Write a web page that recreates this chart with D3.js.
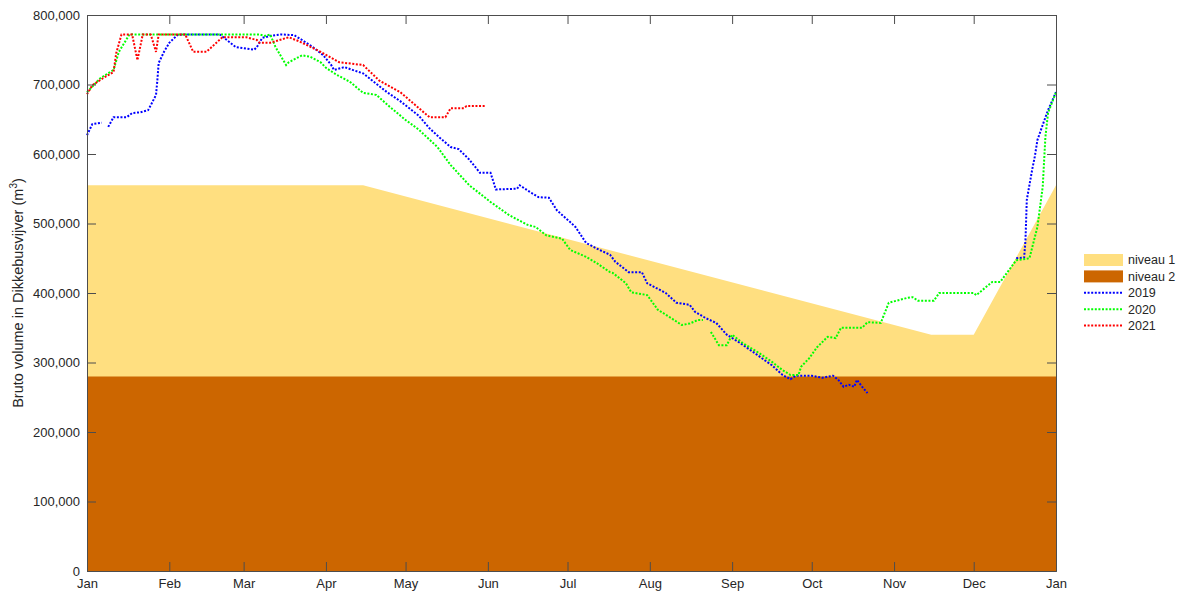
<!DOCTYPE html>
<html>
<head>
<meta charset="utf-8">
<script src="https://cdn.jsdelivr.net/npm/d3@7"></script>
<style>
  body { margin: 0; background: #fff; }
  svg { font-family: "Liberation Sans", Arial, sans-serif; }
</style>
</head>
<body>
<div id="chart"></div>
<script>
// --- data (day of year, volume in 1000 m3) ---
const months = ["Jan", "Feb", "Mar", "Apr", "May", "Jun", "Jul", "Aug", "Sep", "Oct", "Nov", "Dec", "Jan"];

const levelDates = ["2019-01-01", "2019-04-15", "2019-11-15", "2019-12-01", "2020-01-01"];
const level1 = [555000, 555000, 340000, 340000, 555000];
const level2 = [280000, 280000, 280000, 280000, 280000];

// null = missing data (gap in the line)
const days2019 = [0, 2, 5.6, 7, 8, 10, 15, 17, 20, 23, 24, 26, 26.5, 27, 29, 31, 34, 36, 50, 54, 56, 63, 64, 66, 69, 73, 78, 81, 85, 89, 92, 93, 97, 100, 104, 108, 113, 118, 125, 129, 133, 137, 140, 144, 148, 152, 154, 162, 163, 167, 170, 174, 177, 182, 184, 188, 193, 197, 199, 204, 209, 211, 216, 218, 222, 227, 229, 233, 237, 241, 246, 251, 255, 258, 262, 265, 267, 273, 277, 281, 283, 285, 287, 289, 290, 292, 294, 300, 350, 353, 353.5, 354, 356, 357, 358, 360, 362, 365];
const vol2019 = [627, 643, 645, null, 639, 653, 653, 659, 660, 663, 670, 685, 706, 731, 747, 760, 771, 772, 772, 760, 754, 750, 754, 767, 770, 772, 771, 764, 754, 742, 728, 721, 725, 721, 716, 704, 689, 676, 655, 637, 623, 610, 607, 592, 573, 573, 549, 550, 555, 545, 538, 537, 519, 502, 495, 472, 462, 455, 445, 430, 430, 414, 404, 400, 386, 383, 373, 364, 357, 340, 328, 315, 304, 296, 282, 276, 281, 281, 278, 281, 275, 265, 268, 265, 275, 265, 256, null, 450, 451, 476, 534, 577, 596, 620, 642, 663, 689];

const days2020 = [0, 5, 10, 12, 16, 65, 67, 69, 71, 75, 76, 79, 81, 84, 88, 90, 94, 99, 104, 109, 114, 120, 125, 132, 137, 144, 152, 159, 166, 169, 173, 179, 182, 188, 192, 197, 198, 203, 205, 211, 215, 220, 224, 227, 230, 232, 233.5, 235, 238, 241, 243, 247, 253, 258, 262, 265, 268, 269, 272, 275, 279, 282, 284, 292, 294, 299, 302, 309, 311, 313, 319, 321, 334, 335, 341, 344, 350, 355, 358, 360, 361, 362, 365];
const vol2020 = [689, 709, 721, 747, 772, 772, 770, 772, 754, 728, 732, 738, 742, 740, 732, 724, 714, 704, 688, 685, 668, 649, 635, 610, 584, 555, 531, 512, 498, 495, 483, 478, 462, 452, 443, 430, 429, 414, 401, 397, 376, 364, 354, 356, 361, 361, null, 344, 325, 325, 340, 328, 314, 301, 289, 282, 282, 294, 306, 322, 337, 335, 350, 350, 358, 357, 386, 393, 394, 389, 389, 400, 400, 397, 416, 416, 447, 450, 495, 553, 624, 659, 689];

const days2021 = [0, 2, 6, 10, 11, 13, 17, 19, 21, 24, 26, 27, 37, 40, 45, 51, 60, 64, 65, 69, 76, 80, 88, 95, 104, 110, 118, 125, 129, 135, 137, 142, 143, 150];
const vol2021 = [686, 699, 709, 718, 745, 772, 772, 735, 772, 772, 747, 772, 772, 747, 747, 768, 768, 764, 760, 760, 768, 762, 747, 732, 728, 706, 689, 666, 653, 653, 666, 666, 669, 669];

const yTicks = [0, 100000, 200000, 300000, 400000, 500000, 600000, 700000, 800000];

// --- layout ---
const width = 1180, height = 596;
const plotLeft = 87, plotRight = 1056, plotTop = 15, plotBottom = 571;
const parse = d3.timeParse("%Y-%m-%d");
const start = parse("2019-01-01");

const x = d3.scaleTime().domain([start, parse("2020-01-01")]).range([plotLeft, plotRight]);
const y = d3.scaleLinear().domain([0, 800000]).range([plotBottom, plotTop]);

const svg = d3.select("#chart").append("svg")
    .attr("width", width)
    .attr("height", height);

function toPoints(days, vals) {
    return days.map((d, i) => ({
        date: d3.timeHour.offset(start, Math.round(d * 24)),
        v: vals[i] === null ? null : vals[i] * 1000
    }));
}

// levels
const levelData = levelDates.map((d, i) => ({ date: parse(d), l1: level1[i], l2: level2[i] }));

svg.append("path")
    .datum(levelData)
    .attr("fill", "#ffdf80")
    .attr("d", d3.area().x(d => x(d.date)).y0(y(0)).y1(d => y(d.l1)));

svg.append("path")
    .datum(levelData)
    .attr("fill", "#cc6600")
    .attr("d", d3.area().x(d => x(d.date)).y0(y(0)).y1(d => y(d.l2)));

// year series
const series = [
    { name: "2019", color: "#0000ff", pts: toPoints(days2019, vol2019) },
    { name: "2020", color: "#00ff00", pts: toPoints(days2020, vol2020) },
    { name: "2021", color: "#ff0000", pts: toPoints(days2021, vol2021) }
];

const line = d3.line()
    .defined(d => d.v !== null)
    .x(d => x(d.date))
    .y(d => y(d.v));

svg.append("g")
    .selectAll("path")
    .data(series)
    .join("path")
    .attr("fill", "none")
    .attr("stroke", d => d.color)
    .attr("stroke-width", 2)
    .attr("stroke-dasharray", "2,1.6")
    .attr("d", d => line(d.pts));

// axes (box with inward ticks)
const monthTicks = d3.timeMonth.range(start, d3.timeDay.offset(parse("2020-01-01"), 1));
const axisColor = "#4d4d4d";
const textColor = "#262626";

const xAxis = svg.append("g")
    .attr("transform", `translate(0,${plotBottom})`)
    .call(d3.axisBottom(x).tickValues(monthTicks).tickSize(-9).tickPadding(8)
        .tickFormat((d, i) => months[i]));
const xTop = svg.append("g")
    .attr("transform", `translate(0,${plotTop})`)
    .call(d3.axisTop(x).tickValues(monthTicks).tickSize(-9).tickFormat(""));
const yAxis = svg.append("g")
    .attr("transform", `translate(${plotLeft},0)`)
    .call(d3.axisLeft(y).tickValues(yTicks).tickSize(-9).tickPadding(7)
        .tickFormat(d3.format(",")));
const yRight = svg.append("g")
    .attr("transform", `translate(${plotRight},0)`)
    .call(d3.axisRight(y).tickValues(yTicks).tickSize(-9).tickFormat(""));

[xAxis, xTop, yAxis, yRight].forEach(g => {
    g.selectAll("path.domain").attr("stroke", axisColor);
    g.selectAll(".tick line").attr("stroke", axisColor);
    g.selectAll(".tick text")
        .attr("fill", textColor)
        .style("font-size", "13px")
        .style("font-family", "'Liberation Sans', Arial, sans-serif");
});

// y label
const ylab = svg.append("text")
    .attr("transform", `translate(23,${(plotTop + plotBottom) / 2}) rotate(-90)`)
    .attr("text-anchor", "middle")
    .attr("fill", textColor)
    .style("font-size", "14.5px");
ylab.append("tspan").text("Bruto volume in Dikkebusvijver (m");
ylab.append("tspan").attr("dy", -6).style("font-size", "10px").text("3");
ylab.append("tspan").attr("dy", 6).text(")");

// legend
const legend = svg.append("g").attr("transform", "translate(1084,254)");
const legendItems = [
    { name: "niveau 1", fill: "#ffdf80" },
    { name: "niveau 2", fill: "#cc6600" },
    { name: "2019", color: "#0000ff" },
    { name: "2020", color: "#00ff00" },
    { name: "2021", color: "#ff0000" }
];
legendItems.forEach((d, i) => {
    const gy = i * 16.4;
    if (d.fill) {
        legend.append("rect")
            .attr("x", 0).attr("y", gy)
            .attr("width", 39).attr("height", 12)
            .attr("fill", d.fill);
    } else {
        legend.append("line")
            .attr("x1", 0).attr("x2", 39)
            .attr("y1", gy + 6).attr("y2", gy + 6)
            .attr("stroke", d.color)
            .attr("stroke-width", 2)
            .attr("stroke-dasharray", "2,1.6");
    }
    legend.append("text")
        .attr("x", 44).attr("y", gy + 6)
        .attr("dy", "0.35em")
        .attr("fill", textColor)
        .style("font-size", "12.5px")
        .text(d.name);
});
</script>
</body>
</html>
